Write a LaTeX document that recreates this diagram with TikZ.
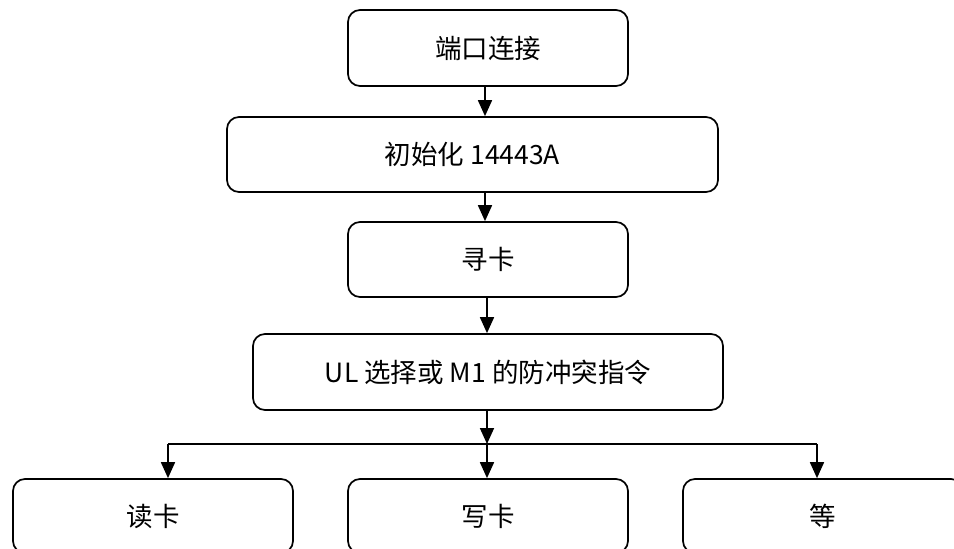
\documentclass[tikz,border=0pt]{standalone}
\usepackage{fontspec}
\setmainfont{Noto Sans CJK SC}
\usetikzlibrary{arrows.meta}
\begin{document}
\begin{tikzpicture}[x=1pt,y=-1pt,
  box/.style={draw=black,line width=1.7pt,rounded corners=12pt,inner sep=0pt,
    font=\fontsize{26.5}{30}\selectfont},
  arr/.style={line width=1.7pt,-{Triangle[length=16pt,width=14pt]}},
  ln/.style={line width=1.7pt}]
\clip (0,0) rectangle (954,549);
\useasboundingbox (0,0) rectangle (954,549);
\node[box,minimum width=280pt,minimum height=76pt] (b1) at (488,48) {端口连接};
\node[box,minimum width=491pt,minimum height=75pt] (b2) at (472.5,154.5) {初始化 14443A};
\node[box,minimum width=280pt,minimum height=75pt] (b3) at (488,259.5) {寻卡};
\node[box,minimum width=470pt,minimum height=76pt] (b4) at (488,372) {UL 选择或 M1 的防冲突指令};
\node[box,minimum width=280pt,minimum height=74pt] (b5) at (153,516) {读卡};
\node[box,minimum width=280pt,minimum height=74pt] (b6) at (488,516) {写卡};
\node[box,minimum width=280pt,minimum height=74pt] (b7) at (823,516) {等};
\coordinate (xa) at (485,0);
\coordinate (xb) at (487,0);
\coordinate (br) at (487,444);
\coordinate (bl) at (168,444);
\coordinate (bm) at (487,444);
\coordinate (brr) at (817,444);
\draw[arr] (b1.south -| xa) -- (b2.north -| xa);
\draw[arr] (b2.south -| xa) -- (b3.north -| xa);
\draw[arr] (b3.south -| xb) -- (b4.north -| xb);
\draw[arr] (b4.south -| xb) -- (br);
\draw[ln] (bl) -- (brr);
\draw[arr] (bl) -- (b5.north -| bl);
\draw[arr] (bm) -- (b6.north -| bm);
\draw[arr] (brr) -- (b7.north -| brr);
\end{tikzpicture}
\end{document}
